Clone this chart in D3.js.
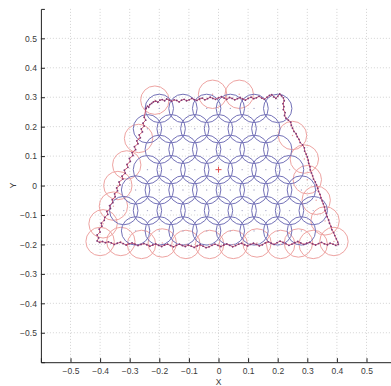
<!DOCTYPE html>
<html>
<head>
<meta charset="utf-8">
<script src="https://cdn.jsdelivr.net/npm/d3@7/dist/d3.min.js"></script>
<style>
  html, body { margin: 0; padding: 0; background: #fff; }
  svg { display: block; }
  text { font-family: "Liberation Sans", Arial, sans-serif; fill: #3a3a3a; }
</style>
</head>
<body>
<svg id="chart" width="391" height="386"></svg>
<script>
// Axis ticks
const xTicks = [-0.5, -0.4, -0.3, -0.2, -0.1, 0, 0.1, 0.2, 0.3, 0.4, 0.5];
const yTicks = [-0.5, -0.4, -0.3, -0.2, -0.1, 0, 0.1, 0.2, 0.3, 0.4, 0.5];

// Sensing radius shared by every node
const sensingRadius = 0.048;

// Interior nodes on the hexagonal lattice: one entry per row (y, list of x)
const gridRowY = [0.262, 0.193, 0.123, 0.054, -0.015, -0.085, -0.154];
const gridRowX = [
  [-0.20, -0.12, -0.04, 0.04, 0.12, 0.20],
  [-0.24, -0.16, -0.08, 0.00, 0.08, 0.16],
  [-0.20, -0.12, -0.04, 0.04, 0.12, 0.20],
  [-0.24, -0.16, -0.08, 0.00, 0.08, 0.16, 0.24],
  [-0.28, -0.20, -0.12, -0.04, 0.04, 0.12, 0.20, 0.28],
  [-0.32, -0.24, -0.16, -0.08, 0.00, 0.08, 0.16, 0.24, 0.32],
  [-0.28, -0.20, -0.12, -0.04, 0.04, 0.12, 0.20, 0.28]
];

// Boundary nodes placed along the region edge
const edgeNodeX = [-0.215, -0.020, 0.070, 0.250, 0.290, 0.300, 0.330, 0.360, 0.390,
                   0.320, 0.270, 0.210, 0.130, 0.050, -0.030, -0.110, -0.190, -0.260, -0.330,
                   -0.400, -0.390, -0.355, -0.340, -0.310, -0.270];
const edgeNodeY = [0.290, 0.310, 0.310, 0.170, 0.090, 0.020, -0.050, -0.120, -0.190,
                   -0.200, -0.195, -0.200, -0.195, -0.200, -0.200, -0.200, -0.195, -0.200, -0.190,
                   -0.190, -0.130, -0.070, 0.000, 0.070, 0.160];

// Reference node
const sinkX = [0.0];
const sinkY = [0.054];

// Measured region boundary (closed trace)
const boundaryX = [
  -0.245, -0.240, -0.236, -0.232, -0.226, -0.220, -0.212, -0.205, -0.198, -0.190, -0.182, -0.175,
  -0.166, -0.158, -0.150, -0.141, -0.133, -0.125, -0.116, -0.108, -0.099, -0.090, -0.082, -0.073,
  -0.064, -0.055, -0.046, -0.037, -0.028, -0.019, -0.010, 0.000, 0.010, 0.019, 0.028, 0.037,
  0.046, 0.055, 0.064, 0.073, 0.082, 0.091, 0.100, 0.110, 0.119, 0.128, 0.137, 0.146,
  0.155, 0.164, 0.172, 0.180, 0.187, 0.194, 0.200, 0.207, 0.213, 0.219, 0.222,
  0.218, 0.221, 0.219, 0.225, 0.223, 0.228, 0.236, 0.244, 0.246, 0.250, 0.255, 0.262,
  0.266, 0.272, 0.276, 0.284, 0.290, 0.291, 0.296, 0.300, 0.303, 0.305, 0.309, 0.310,
  0.314, 0.318, 0.321, 0.327, 0.331, 0.335, 0.338, 0.343, 0.346, 0.350, 0.354, 0.358,
  0.360, 0.364, 0.367, 0.372, 0.375, 0.380, 0.383, 0.389, 0.393, 0.398, 0.403, 0.405,
  0.396, 0.387, 0.377, 0.368, 0.358, 0.348, 0.338, 0.328, 0.318, 0.308, 0.298, 0.288,
  0.278, 0.268, 0.258, 0.248, 0.238, 0.228, 0.218, 0.208, 0.198, 0.188, 0.178, 0.168,
  0.158, 0.148, 0.138, 0.128, 0.118, 0.108, 0.098, 0.088, 0.078, 0.068, 0.058, 0.048,
  0.038, 0.028, 0.018, 0.008, -0.002, -0.012, -0.022, -0.032, -0.042, -0.052, -0.062, -0.072,
  -0.082, -0.092, -0.102, -0.112, -0.122, -0.132, -0.142, -0.152, -0.162, -0.172, -0.182, -0.192,
  -0.202, -0.212, -0.222, -0.232, -0.242, -0.252, -0.262, -0.272, -0.282, -0.292, -0.302, -0.312,
  -0.322, -0.332, -0.342, -0.352, -0.362, -0.372, -0.382, -0.392, -0.402, -0.410,
  -0.405, -0.410, -0.400, -0.403, -0.394, -0.396, -0.386, -0.384, -0.374, -0.377, -0.365, -0.368,
  -0.357, -0.359, -0.349, -0.351, -0.341, -0.344, -0.333, -0.336, -0.323, -0.326, -0.315, -0.318,
  -0.306, -0.309, -0.298, -0.301, -0.289, -0.292, -0.280, -0.284, -0.272, -0.276, -0.264, -0.268,
  -0.257, -0.261, -0.251, -0.255, -0.246, -0.251, -0.245
];
const boundaryY = [
  0.262, 0.270, 0.266, 0.275, 0.279, 0.284, 0.287, 0.283, 0.290, 0.292, 0.288, 0.294,
  0.290, 0.286, 0.291, 0.289, 0.284, 0.290, 0.293, 0.288, 0.291, 0.296, 0.292, 0.289,
  0.294, 0.297, 0.291, 0.295, 0.300, 0.296, 0.293, 0.298, 0.302, 0.297, 0.293, 0.299,
  0.296, 0.291, 0.295, 0.299, 0.294, 0.290, 0.296, 0.300, 0.295, 0.298, 0.303, 0.297,
  0.293, 0.300, 0.306, 0.309, 0.301, 0.296, 0.303, 0.311, 0.305, 0.298, 0.288,
  0.278, 0.268, 0.258, 0.248, 0.238, 0.229, 0.222, 0.215, 0.205, 0.195, 0.184, 0.176,
  0.166, 0.157, 0.146, 0.138, 0.128, 0.117, 0.107, 0.097, 0.086, 0.075, 0.064, 0.053,
  0.043, 0.033, 0.022, 0.012, 0.002, -0.009, -0.020, -0.030, -0.041, -0.052, -0.062, -0.073,
  -0.084, -0.095, -0.106, -0.117, -0.128, -0.139, -0.150, -0.160, -0.170, -0.181, -0.192, -0.200,
  -0.203, -0.199, -0.196, -0.201, -0.198, -0.193, -0.197, -0.202, -0.198, -0.193, -0.196, -0.200,
  -0.195, -0.190, -0.194, -0.199, -0.203, -0.198, -0.193, -0.189, -0.194, -0.200, -0.196, -0.191,
  -0.195, -0.201, -0.205, -0.200, -0.196, -0.200, -0.205, -0.201, -0.196, -0.199, -0.204, -0.208,
  -0.203, -0.198, -0.202, -0.207, -0.203, -0.199, -0.203, -0.208, -0.211, -0.206, -0.201, -0.205,
  -0.210, -0.206, -0.202, -0.207, -0.204, -0.199, -0.203, -0.208, -0.204, -0.199, -0.202, -0.207,
  -0.203, -0.198, -0.202, -0.206, -0.201, -0.197, -0.200, -0.204, -0.199, -0.195, -0.198, -0.202,
  -0.197, -0.193, -0.196, -0.200, -0.195, -0.191, -0.194, -0.190, -0.193, -0.188,
  -0.178, -0.168, -0.158, -0.148, -0.138, -0.128, -0.118, -0.108, -0.098, -0.088, -0.078, -0.068,
  -0.058, -0.048, -0.038, -0.028, -0.018, -0.008, 0.002, 0.012, 0.022, 0.032, 0.042, 0.052,
  0.062, 0.072, 0.082, 0.092, 0.102, 0.112, 0.122, 0.132, 0.142, 0.152, 0.162, 0.172,
  0.182, 0.192, 0.202, 0.212, 0.222, 0.232, 0.262
];

const svg = d3.select("#chart");

const x = d3.scaleLinear().domain([-0.6, 0.6]).range([40.9, 396.1]);
const y = d3.scaleLinear().domain([-0.6, 0.6]).range([362.2, 8.9]);
const r = x(sensingRadius) - x(0);

// Dotted grid
const grid = svg.append("g");
grid.selectAll("line.gx").data(xTicks).join("line")
  .attr("x1", d => x(d)).attr("x2", d => x(d))
  .attr("y1", y(0.6)).attr("y2", y(-0.6))
  .attr("stroke", "#c8c8c8").attr("stroke-width", 0.8).attr("stroke-dasharray", "1,2");
grid.selectAll("line.gy").data(yTicks).join("line")
  .attr("y1", d => y(d)).attr("y2", d => y(d))
  .attr("x1", x(-0.6)).attr("x2", x(0.6))
  .attr("stroke", "#c8c8c8").attr("stroke-width", 0.8).attr("stroke-dasharray", "1,2");

// Interior nodes
const gridNodes = gridRowY.flatMap((yy, i) => gridRowX[i].map(xx => ({ x: xx, y: yy })));
const edgeNodes = edgeNodeX.map((xx, i) => ({ x: xx, y: edgeNodeY[i] }));

const nodes = svg.append("g");
nodes.selectAll("circle.edge").data(edgeNodes).join("circle")
  .attr("cx", d => x(d.x)).attr("cy", d => y(d.y)).attr("r", r)
  .attr("fill", "none").attr("stroke", "#eea4a2").attr("stroke-width", 1);
nodes.selectAll("circle.grid").data(gridNodes).join("circle")
  .attr("cx", d => x(d.x)).attr("cy", d => y(d.y)).attr("r", r)
  .attr("fill", "none").attr("stroke", "#7472b8").attr("stroke-width", 1);

// Node centres
nodes.selectAll("circle.gc").data(gridNodes).join("circle")
  .attr("cx", d => x(d.x)).attr("cy", d => y(d.y)).attr("r", 0.7)
  .attr("fill", "#a8a8c8");
nodes.selectAll("circle.ec").data(edgeNodes).join("circle")
  .attr("cx", d => x(d.x)).attr("cy", d => y(d.y)).attr("r", 0.7)
  .attr("fill", "#e8a0a0");

// Boundary trace
const boundary = boundaryX.map((xx, i) => [xx, boundaryY[i]]);
svg.append("path")
  .datum(boundary)
  .attr("d", d3.line().x(d => x(d[0])).y(d => y(d[1])))
  .attr("fill", "none").attr("stroke", "#d0506a").attr("stroke-width", 0.9);
svg.append("g").selectAll("circle").data(boundary).join("circle")
  .attr("cx", d => x(d[0])).attr("cy", d => y(d[1])).attr("r", 0.9)
  .attr("fill", "#7a3a78");

// Reference node marker
const sink = svg.append("g");
sinkX.forEach((sx, i) => {
  sink.append("path")
    .attr("d", `M${x(sx) - 3},${y(sinkY[i])}H${x(sx) + 3}M${x(sx)},${y(sinkY[i]) - 3}V${y(sinkY[i]) + 3}`)
    .attr("stroke", "#e05050").attr("stroke-width", 1);
});

// Axes (ticks pointing inward)
const xAxis = d3.axisBottom(x).tickValues(xTicks).tickSize(-4).tickPadding(6)
  .tickFormat(d3.format(".1~f"));
const yAxis = d3.axisLeft(y).tickValues(yTicks).tickSize(-4).tickPadding(4)
  .tickFormat(d3.format(".1~f"));

const gx = svg.append("g").attr("transform", `translate(0,${y(-0.6)})`).call(xAxis);
const gy = svg.append("g").attr("transform", `translate(${x(-0.6)},0)`).call(yAxis);
[gx, gy].forEach(g => {
  g.select(".domain").attr("stroke", "#222").attr("stroke-width", 1);
  g.selectAll(".tick line").attr("stroke", "#222");
  g.selectAll(".tick text").attr("font-size", 8.5).attr("fill", "#3a3a3a")
    .attr("font-family", "Liberation Sans, Arial, sans-serif");
});

// Axis titles
svg.append("text").attr("x", x(0)).attr("y", 384.5).attr("text-anchor", "middle")
  .attr("font-size", 8.5).text("X");
svg.append("text").attr("transform", `translate(16,${y(0)}) rotate(-90)`)
  .attr("text-anchor", "middle").attr("font-size", 9).text("Y");
</script>
</body>
</html>
